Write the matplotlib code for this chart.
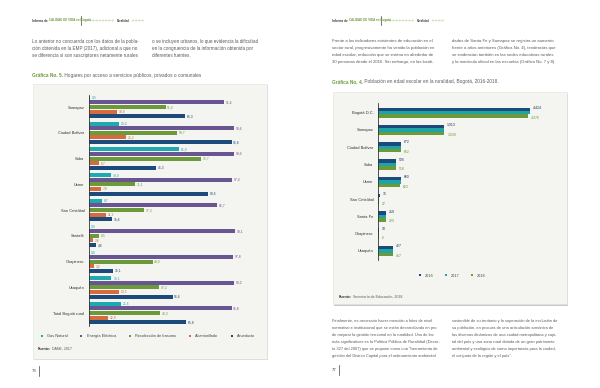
import matplotlib

matplotlib.use("Agg")

import matplotlib.pyplot as plt
from matplotlib.patches import Rectangle, Circle
from matplotlib.lines import Line2D

plt.rcParams["font.family"] = ["Liberation Sans", "DejaVu Sans"]

W, H = 600, 388

# Grafica No. 5 - hogares por acceso a servicios
localidades_5 = ["Sumapaz", "Ciudad Bolívar", "Suba", "Usme", "San Cristóbal",
                 "Santafé", "Chapinero", "Usaquén", "Total Bogotá rural"]
servicios = ["Gas Natural", "Energía Eléctrica", "Recolección de basuras",
             "Alcantarillado", "Acueducto"]
gas_natural = [0.5, 20.4, 61.0, 14.9, 8.7, 0.0, 0.0, 15.1, 21.6]
energia = [91.6, 98.6, 98.6, 97.4, 86.7, 99.1, 97.8, 98.2, 96.8]
basuras = [51.9, 59.7, 75.7, 31.1, 37.3, 6.5, 43.0, 47.2, 48.3]
alcantarillado = [18.8, 25.2, 6.7, 7.8, 11.2, 2.6, 3.2, 20.5, 12.8]
acueducto = [65.3, 96.8, 45.3, 80.6, 15.6, 4.6, 16.1, 56.6, 65.8]
colores_5 = ["#1eaab0", "#6a5593", "#6c9a3a", "#d66b3f", "#1c4a7a"]

# Grafica No. 4 - poblacion en edad escolar
localidades_4 = ["Bogotá D.C.", "Sumapaz", "Ciudad Bolívar", "Suba", "Usme",
                 "San Cristóbal", "Santa Fe", "Chapinero", "Usaquén"]
anios = ["2016", "2017", "2018"]
pob_2016 = [4424, 1913, 672, 526, 660, 35, 218, 10, 427]
pob_2017 = [4410, 1915, 662, 522, 655, 30, 224, 8, 422]
pob_2018 = [4376, 1930, 652, 518, 623, 27, 229, 6, 417]
colores_4 = ["#1c4a7a", "#1ea3a6", "#6c9a3a"]

TXT = "#5a5a5a"
GREEN = "#6c9a3a"

parrafo_izq_1 = ["Lo anterior no concuerda con los datos de la pobla-",
                 "ción obtenida en la EMP (2017), adicional a que no",
                 "se diferencia si son suscriptores netamente rurales"]
parrafo_izq_2 = ["o se incluyen urbanos, lo que evidencia la dificultad",
                 "en la congruencia de la información obtenida por",
                 "diferentes fuentes."]
parrafo_der_1 = ["Frente a los indicadores existentes de educación en el",
                 "sector rural, progresivamente ha venido la población en",
                 "edad escolar, reducción que se estima en alrededor de",
                 "30 personas desde el 2016. Sin embargo, en las locali-"]
parrafo_der_2 = ["dades de Santa Fe y Sumapaz se registra un aumento",
                 "frente a años anteriores (Gráfica No. 4), tendencias que",
                 "se evidencian también en las sedes educativas rurales",
                 "y la matrícula oficial en las escuelas (Gráfica No. 7 y 8)."]
parrafo_der_3 = ["Finalmente, es necesario hacer mención a hitos de nivel",
                 "normativo e institucional que se están desarrollando en pro",
                 "de mejorar la gestión territorial en la ruralidad. Uno de los",
                 "más significativos es la Política Pública de Ruralidad (Decre-",
                 "to 327 del 2007) que se propone como una \"herramienta de",
                 "gestión del Distrito Capital para el ordenamiento ambiental"]
parrafo_der_4 = ["sostenible de su territorio y la superación de la exclusión de",
                 "su población, en procura de una articulación armónica de",
                 "las diversas dinámicas de una ciudad metropolitana y capi-",
                 "tal del país y una zona rural dotada de un gran patrimonio",
                 "ambiental y ecológico de suma importancia para la ciudad,",
                 "el conjunto de la región y el país\"."]


def fx(px):
    return px / W


def fy(py):
    return 1 - py / H


def box(bg, x0, y0, x1, y1):
    bg.add_patch(Rectangle((fx(x0) + 0.003, fy(y1) - 0.005), fx(x1 - x0), fy(y0) - fy(y1),
                           transform=bg.transAxes, facecolor="#c9c9c6", edgecolor="none"))
    bg.add_patch(Rectangle((fx(x0), fy(y1)), fx(x1 - x0), fy(y0) - fy(y1),
                           transform=bg.transAxes, facecolor="#f4f4f0",
                           edgecolor="#e2e2dc", linewidth=0.4))


def paragraph(bg, lines, x, y, size, step=6.9):
    for i, line in enumerate(lines):
        bg.text(fx(x), fy(y + i * step), line, fontsize=size, color=TXT,
                ha="left", va="center", transform=bg.transAxes)


def two_part(bg, x, y, first, rest, size, first_color, rest_color):
    t = bg.text(fx(x), fy(y), first, fontsize=size, color=first_color, fontweight="bold",
                ha="left", va="center", transform=bg.transAxes)
    bg.annotate(" " + rest, xy=(1, 0.5), xycoords=t, fontsize=size, color=rest_color,
                ha="left", va="center")


def header(bg, x, y):
    t = bg.text(fx(x), fy(y), "Informe de", fontsize=2.2, color="#333333",
                fontweight="bold", ha="left", va="center", transform=bg.transAxes)
    bg.annotate(" CALIDAD DE VIDA en Bogotá", xy=(1, 0.5), xycoords=t, fontsize=2.2,
                color=GREEN, fontweight="bold", ha="left", va="center")
    bg.add_line(Line2D([fx(x + 49), fx(x + 49)], [fy(y - 5), fy(y + 4)],
                       color="#444444", linewidth=0.5, transform=bg.transAxes))
    for k in range(12):
        cx = x + 55 + k * 3.2
        if k == 9:
            continue
        bg.add_patch(Circle((fx(cx), fy(y)), 0.0022, transform=bg.transAxes,
                            facecolor="#cfe0b4", edgecolor="none"))
    bg.text(fx(x + 85), fy(y), "Ruralidad", fontsize=2.0, color="#444444",
            fontweight="bold", ha="left", va="center", transform=bg.transAxes)
    for k in range(4):
        bg.add_patch(Circle((fx(x + 101 + k * 3.2), fy(y)), 0.0022, transform=bg.transAxes,
                            facecolor="#cfe0b4", edgecolor="none"))


def page_number(bg, x, y, num):
    bg.text(fx(x), fy(y), num, fontsize=3.2, color="#444444", ha="left", va="center",
            transform=bg.transAxes)
    bg.add_line(Line2D([fx(x + 7), fx(x + 7)], [fy(y - 5), fy(y + 5)],
                       color="#444444", linewidth=0.5, transform=bg.transAxes))


def style_axis(ax, labels):
    ax.patch.set_alpha(0)
    ax.set_yticks(range(len(labels)))
    ax.set_yticklabels(labels, fontsize=2.9, color="#333333")
    ax.tick_params(axis="y", length=0, pad=3.5)
    ax.set_xticks([])
    for s in ["top", "right", "bottom"]:
        ax.spines[s].set_visible(False)
    ax.spines["left"].set_color("#333333")
    ax.spines["left"].set_linewidth(0.6)


fig = plt.figure(figsize=(6, 3.88), dpi=100)
fig.patch.set_facecolor("white")
bg = fig.add_axes([0, 0, 1, 1])
bg.set_axis_off()
bg.set_xlim(0, 1)
bg.set_ylim(0, 1)

# ---------------- left page ----------------
header(bg, 32, 20.5)
paragraph(bg, parrafo_izq_1, 32, 41.3, 3.3)
paragraph(bg, parrafo_izq_2, 152, 41.3, 3.3)
two_part(bg, 32, 75.5, "Gráfica No. 5.",
         "Hogares por acceso a servicios públicos, privados o comunales", 3.4, GREEN, TXT)
box(bg, 32.5, 84, 266.5, 358.5)
page_number(bg, 32, 371, "76")

ax5 = fig.add_axes([fx(89.3), fy(326.0), fx(170), (326.0 - 94.7) / H])
series_5 = [gas_natural, energia, basuras, alcantarillado, acueducto]
step5 = 0.18
for j, (vals, name, col) in enumerate(zip(series_5, servicios, colores_5)):
    ys = [i + (j - 2) * step5 for i in range(len(localidades_5))]
    ax5.barh(ys, vals, height=0.155, color=col, label=name)
    for yv, v in zip(ys, vals):
        ax5.text(v + 1.2, yv, f"{v:.1f}".replace(".", ","), fontsize=2.4,
                 color=col, ha="left", va="center")
ax5.set_xlim(0, 170 / 1.47)
ax5.set_ylim(len(localidades_5) - 0.5, -0.48)
style_axis(ax5, localidades_5)
fig.legend(*ax5.get_legend_handles_labels(), loc="center", ncol=5,
           bbox_to_anchor=(fx(148), fy(336)), frameon=False, fontsize=2.8,
           handlelength=0.5, handleheight=0.5, columnspacing=3.2, handletextpad=1.2,
           labelcolor="#444444")
two_part(bg, 38, 349, "Fuente:", "DANE, 2017", 2.6, "#333333", TXT)

# ---------------- right page ----------------
header(bg, 332, 20.5)
paragraph(bg, parrafo_der_1, 332, 41.3, 3.1)
paragraph(bg, parrafo_der_2, 452, 41.3, 3.1)
two_part(bg, 332, 82, "Gráfica No. 4.",
         "Población en edad escolar en la ruralidad, Bogotá, 2016-2018.", 3.4, GREEN, TXT)
box(bg, 332.5, 92, 566.5, 304)
paragraph(bg, parrafo_der_3, 332, 321, 2.85, step=6.95)
paragraph(bg, parrafo_der_4, 452, 321, 2.85, step=6.95)
page_number(bg, 332, 370, "77")

px_per_unit = 151.7 / 4424
ax4 = fig.add_axes([fx(378.3), fy(260.4), fx(175), (260.4 - 103.2) / H])
series_4 = [pob_2016, pob_2017, pob_2018]
for j, (vals, name, col) in enumerate(zip(series_4, anios, colores_4)):
    ys = [i + (j - 1) * 0.2 for i in range(len(localidades_4))]
    ax4.barh(ys, vals, height=0.2, color=col, label=name)
    if j == 1:
        continue
    for yv, v in zip(ys, vals):
        ax4.text(v + 3.0 / px_per_unit, yv + (-0.08 if j == 0 else 0.08),
                 f"{v:,}".replace(",", "."), fontsize=2.5,
                 color="#1c3a5a" if j == 0 else col, ha="left", va="center")
ax4.set_xlim(0, 175 / px_per_unit)
ax4.set_ylim(len(localidades_4) - 0.45, -0.55)
style_axis(ax4, localidades_4)
fig.legend(*ax4.get_legend_handles_labels(), loc="center", ncol=3,
           bbox_to_anchor=(fx(452), fy(275.7)), frameon=False, fontsize=2.8,
           handlelength=0.5, handleheight=0.5, columnspacing=3.0, handletextpad=1.0,
           labelcolor="#444444")
two_part(bg, 339, 296.7, "Fuente:", "Secretaría de Educación, 2018.", 2.6, "#333333", TXT)

fig.savefig("out.png", dpi=100, facecolor="white")
